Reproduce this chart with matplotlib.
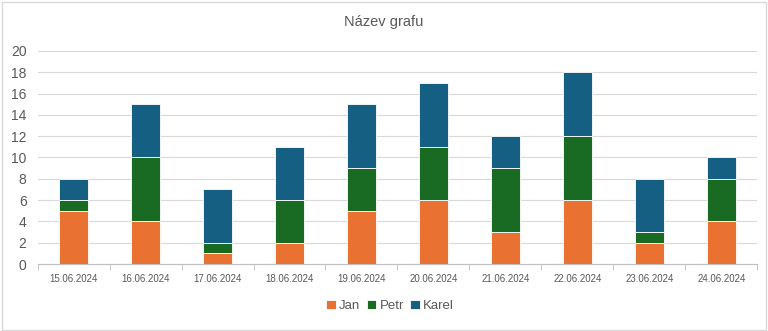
import matplotlib.pyplot as plt
import numpy as np
from matplotlib.patches import Rectangle

# data per day
dates = ['15.06.2024', '16.06.2024', '17.06.2024', '18.06.2024', '19.06.2024',
         '20.06.2024', '21.06.2024', '22.06.2024', '23.06.2024', '24.06.2024']
jan = [5, 4, 1, 2, 5, 6, 3, 6, 2, 4]
petr = [1, 6, 1, 4, 4, 5, 6, 6, 1, 4]
karel = [2, 5, 5, 5, 6, 6, 3, 6, 5, 2]

colors = {'Jan': '#E97132', 'Petr': '#196B24', 'Karel': '#156082'}

plt.rcParams['font.family'] = ['Liberation Sans', 'DejaVu Sans']

fig = plt.figure(figsize=(7.68, 3.31), dpi=100)
ax = fig.add_axes([0.049, 0.2024, 0.937, 0.6436])

x = np.arange(len(dates))
w = 0.4
bottom = np.zeros(len(dates))
for name, vals in (('Jan', jan), ('Petr', petr), ('Karel', karel)):
    ax.bar(x, vals, w, bottom=bottom, color=colors[name], label=name,
           edgecolor='white', linewidth=0.6, zorder=3)
    bottom += np.array(vals)

ax.set_xlim(-0.5, len(dates) - 0.5)
ax.set_ylim(0, 20)
ax.set_yticks(range(0, 21, 2))
ax.yaxis.grid(True, color='#d9d9d9', linewidth=0.8, zorder=0)
ax.tick_params(axis='y', length=0, labelsize=10, labelcolor='#595959', pad=8)

ax.set_xticks(x)
ax.set_xticklabels(dates, fontsize=7, color='#595959')
ax.set_xticks(np.arange(-0.5, len(dates)), minor=True)
ax.tick_params(axis='x', which='major', length=0, pad=7)
ax.tick_params(axis='x', which='minor', length=4, color='#bfbfbf')

for side in ('top', 'right', 'left'):
    ax.spines[side].set_visible(False)
ax.spines['bottom'].set_color('#bfbfbf')

fig.text(0.5, 0.935, 'Název grafu', ha='center', va='center', fontsize=10.5, color='#595959')

fig.legend(loc='center', bbox_to_anchor=(0.508, 0.075), ncol=3, frameon=False,
           fontsize=9.5, handlelength=0.7, handleheight=0.7, handletextpad=0.25,
           columnspacing=0.5, labelcolor='#595959')

fig.patches.append(Rectangle((0.002, 0.003), 0.995, 0.992, transform=fig.transFigure,
                             fill=False, edgecolor='#d9d9d9', linewidth=1))

fig.savefig('out.png', dpi=100)
